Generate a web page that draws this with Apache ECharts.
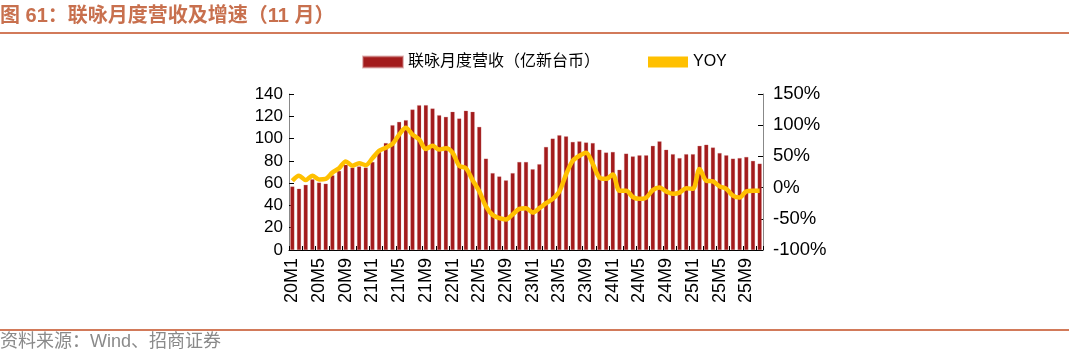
<!DOCTYPE html>
<html>
<head>
<meta charset="utf-8">
<script src="https://cdn.jsdelivr.net/npm/echarts@6/dist/echarts.min.js"></script>
<style>
html,body{margin:0;padding:0;background:#fff;}
#c{width:1069px;height:355px;}
</style>
</head>
<body>
<div id="c"></div>
<script>
var categories = [
 "20M1","20M2","20M3","20M4","20M5","20M6","20M7","20M8","20M9","20M10","20M11","20M12",
 "21M1","21M2","21M3","21M4","21M5","21M6","21M7","21M8","21M9","21M10","21M11","21M12",
 "22M1","22M2","22M3","22M4","22M5","22M6","22M7","22M8","22M9","22M10","22M11","22M12",
 "23M1","23M2","23M3","23M4","23M5","23M6","23M7","23M8","23M9","23M10","23M11","23M12",
 "24M1","24M2","24M3","24M4","24M5","24M6","24M7","24M8","24M9","24M10","24M11","24M12",
 "25M1","25M2","25M3","25M4","25M5","25M6","25M7","25M8","25M9","25M10","25M11"
];
var revenue = [
 57,55,58.5,63.5,60.5,59.5,67,71,76.5,74,75,74,
 79,88,96,112,115,116.5,126,130,130,127,121,119.5,
 124,118,125,124,110.5,82,69,66,62.5,69,79,79,
 72.5,77,92.5,100,103,102,97,97.5,96.5,96,90,87.5,
 88,72,86.5,84,85,85,93.5,97.5,90,86,82.5,86,
 86,93.5,94.5,92,87,85,82,82.5,83.5,80,77.5
];
var yoy = [
 11,19,12,19,13,14,24,31,42,35,39,36,
 47,59,64,70,85,96,85,77,62,67,61,63,
 56,35,31,12,-6,-30,-44,-49,-51,-43,-34,-33,
 -40,-33,-25,-18,-6,21,43,51,56,38,16,14,
 21,-5,-5,-15,-18,-16,-4,0,-6,-10,-8,-1,
 -2,30,11,10,2,-2,-13,-16,-6,-5,-5
];
var leftTicks = {min:0, max:140, interval:20};
var rightTicks = {min:-100, max:150, interval:50};
var barName = "联咏月度营收（亿新台币）";
var lineName = "YOY";
var titleText = "图 61：联咏月度营收及增速（11 月）";
var sourceText = "资料来源：Wind、招商证券";

var FONT = "'Liberation Sans','Noto Sans CJK SC',sans-serif";
var chart = echarts.init(document.getElementById('c'), null, {renderer:'canvas'});
chart.setOption({
  animation:false,
  backgroundColor:'#fff',
  graphic:[
    {type:'text', left:0, top:6, style:{text:titleText, fill:'#C8704E', font:"bold 20px 'Liberation Sans','Noto Sans CJK SC',sans-serif"}},
    {type:'rect', left:0, top:32, shape:{width:1069, height:2}, style:{fill:'#D27A5A'}},
    {type:'rect', left:0, top:329, shape:{width:1069, height:2}, style:{fill:'#D27A5A'}},
    {type:'text', left:0, top:333, style:{text:sourceText, fill:'#8a8a8a', font:"18px 'Liberation Sans','Noto Sans CJK SC',sans-serif"}}
  ],
  legend:{
    left:362, top:54, itemGap:48, padding:0,
    textStyle:{fontFamily:FONT, fontSize:16, color:'#000'},
    data:[
      {name:barName, icon:'rect', itemStyle:{color:'#A31B1C'}},
      {name:lineName, icon:'rect'}
    ],
    itemWidth:40, itemHeight:11
  },
  grid:{left:289, right:306, top:94, bottom:105, containLabel:false},
  xAxis:{
    type:'category', data:categories, boundaryGap:true,
    axisLine:{lineStyle:{color:'#000', width:1}},
    axisTick:{show:true, interval:1, inside:true, length:4, lineStyle:{color:'#000'}},
    axisLabel:{interval:3, rotate:90, fontFamily:FONT, fontSize:18, color:'#000', margin:8}
  },
  yAxis:[
    {type:'value', min:leftTicks.min, max:leftTicks.max, interval:leftTicks.interval,
     splitLine:{show:false},
     axisLine:{show:true, lineStyle:{color:'#888', width:1}},
     axisTick:{show:true, inside:true, length:5, lineStyle:{color:'#000'}},
     axisLabel:{fontFamily:FONT, fontSize:17, color:'#000', margin:6}},
    {type:'value', min:rightTicks.min, max:rightTicks.max, interval:rightTicks.interval,
     splitLine:{show:false},
     axisLine:{show:true, lineStyle:{color:'#888', width:1}},
     axisTick:{show:true, inside:true, length:5, lineStyle:{color:'#000'}},
     axisLabel:{fontFamily:FONT, fontSize:18.5, color:'#000', margin:10, formatter:function(v){return v+'%';}}}
  ],
  series:[
    {name:barName, type:'bar', data:revenue, yAxisIndex:0, barWidth:'62%',
     itemStyle:{color:'#A31B1C', borderColor:'rgba(200,120,120,0.5)', borderWidth:0.5}},
    {name:lineName, type:'line', data:yoy, yAxisIndex:1, smooth:0.3, showSymbol:false, symbol:'none',
     lineStyle:{color:'#FFC000', width:4.5}, itemStyle:{color:'#FFC000'}, z:5}
  ]
});
</script>
</body>
</html>
